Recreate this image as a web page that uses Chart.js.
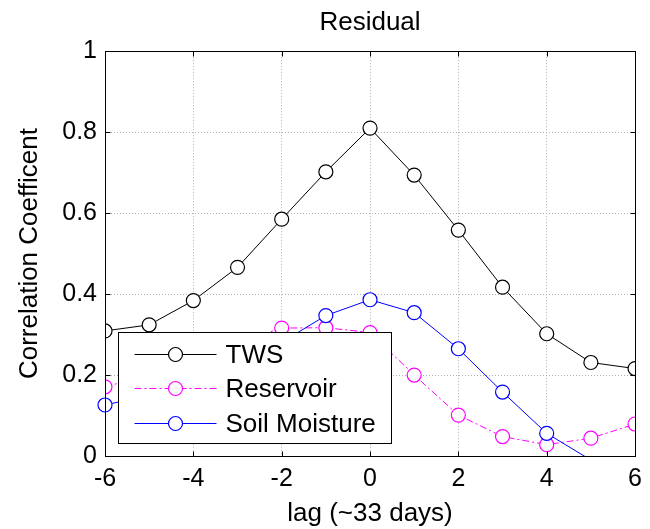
<!DOCTYPE html>
<html>
<head>
<meta charset="utf-8">
<script src="https://cdn.jsdelivr.net/npm/chart.js@4/dist/chart.umd.min.js"></script>
<style>
  html, body { margin: 0; padding: 0; background: #fff; }
</style>
</head>
<body>
<canvas id="myChart" width="650" height="529"></canvas>
<script>
// lag in units of ~33 days
const lags = [-6, -5, -4, -3, -2, -1, 0, 1, 2, 3, 4, 5, 6]
const tws = [0.309, 0.324, 0.384, 0.466, 0.585, 0.702, 0.810, 0.694, 0.558, 0.417, 0.302, 0.231, 0.216]
const reservoir = [0.171, 0.200, 0.240, 0.280, 0.316, 0.317, 0.305, 0.200, 0.101, 0.048, 0.028, 0.044, 0.079]
const soilMoisture = [0.126, 0.150, 0.190, 0.240, 0.281, 0.347, 0.386, 0.354, 0.265, 0.158, 0.056, -0.010, -0.050]
const xTicks = [-6, -4, -2, 0, 2, 4, 6]
const yTicks = [0, 0.2, 0.4, 0.6, 0.8, 1]

const fontFamily = '"Liberation Sans", Arial, Helvetica, sans-serif'

const toPoints = values => lags.map((lag, i) => ({ x: lag, y: values[i] }))

// box, inward ticks and legend drawn like a matlab axes
const matlabAxes = {
  id: 'matlabAxes',
  afterDatasetsDraw (chart) {
    const ctx = chart.ctx
    const area = chart.chartArea
    const xScale = chart.scales.x
    const yScale = chart.scales.y
    const L = Math.round(area.left) + 0.5
    const R = Math.round(area.right) + 0.5
    const T = Math.round(area.top) + 0.5
    const B = Math.round(area.bottom) + 0.5
    ctx.save()
    ctx.strokeStyle = '#000'
    ctx.lineWidth = 1
    ctx.setLineDash([])
    ctx.strokeRect(L, T, R - L, B - T)
    ctx.beginPath()
    xTicks.forEach(v => {
      const px = Math.round(xScale.getPixelForValue(v)) + 0.5
      ctx.moveTo(px, B); ctx.lineTo(px, B - 5)
      ctx.moveTo(px, T); ctx.lineTo(px, T + 5)
    })
    yTicks.forEach(v => {
      const py = Math.round(yScale.getPixelForValue(v)) + 0.5
      ctx.moveTo(L, py); ctx.lineTo(L + 5, py)
      ctx.moveTo(R, py); ctx.lineTo(R - 5, py)
    })
    ctx.stroke()

    // legend, south west corner
    const lw = 273
    const lh = 111
    const lx = Math.round(area.left) + 13 + 0.5
    const ly = Math.round(area.bottom) - 13 - lh + 0.5
    ctx.fillStyle = '#fff'
    ctx.fillRect(lx, ly, lw, lh)
    ctx.strokeRect(lx, ly, lw, lh)
    const rowY = [22, 56, 91]
    chart.data.datasets.forEach((ds, i) => {
      const y = ly + rowY[i]
      ctx.strokeStyle = ds.borderColor
      ctx.lineWidth = ds.borderWidth
      ctx.setLineDash(ds.borderDash || [])
      ctx.beginPath()
      ctx.moveTo(lx + 16, y)
      ctx.lineTo(lx + 98, y)
      ctx.stroke()
      ctx.setLineDash([])
      ctx.beginPath()
      ctx.arc(lx + 57, y, 7, 0, Math.PI * 2)
      ctx.fillStyle = '#fff'
      ctx.fill()
      ctx.lineWidth = ds.pointBorderWidth
      ctx.strokeStyle = ds.pointBorderColor
      ctx.stroke()
      ctx.fillStyle = '#000'
      ctx.font = '26px ' + fontFamily
      ctx.textBaseline = 'middle'
      ctx.textAlign = 'left'
      ctx.fillText(ds.label, lx + 107, y + 1)
    })
    ctx.restore()
  }
}

const lineStyle = (color) => ({
  borderColor: color,
  borderWidth: 1,
  pointRadius: 7,
  pointHoverRadius: 7,
  pointBackgroundColor: '#fff',
  pointBorderColor: color,
  pointBorderWidth: 1.2,
  tension: 0,
  fill: false
})

const configuration = {
  type: 'line',
  data: {
    datasets: [
      {
        label: 'TWS',
        data: toPoints(tws),
        order: 3,
        ...lineStyle('#000')
      },
      {
        label: 'Reservoir',
        data: toPoints(reservoir),
        order: 2,
        ...lineStyle('#ff00ff'),
        borderDash: [7, 3, 2, 3]
      },
      {
        label: 'Soil Moisture',
        data: toPoints(soilMoisture),
        order: 1,
        ...lineStyle('#0000ff'),
        pointRadius: c => (c.raw && c.raw.y < 0 ? 0 : 7),
        clip: { left: 12, top: 12, right: 12, bottom: 0 }
      }
    ]
  },
  options: {
    responsive: false,
    animation: false,
    devicePixelRatio: 1,
    layout: { padding: { left: 0, right: 14, top: 0, bottom: 0 } },
    scales: {
      x: {
        type: 'linear',
        min: -6,
        max: 6,
        afterBuildTicks: scale => { scale.ticks = xTicks.map(v => ({ value: v })) },
        afterFit: scale => { scale.height = 73 },
        grid: { color: '#b0b0b0', lineWidth: 1, drawTicks: false },
        border: { display: false, dash: [1, 2] },
        ticks: {
          color: '#000',
          font: { family: fontFamily, size: 25 },
          padding: 8,
          maxRotation: 0,
          autoSkip: false,
          callback: value => String(Number(value.toFixed(2)))
        },
        title: {
          display: true,
          text: 'lag (~33 days)',
          color: '#000',
          font: { family: fontFamily, size: 26 },
          padding: 0
        }
      },
      y: {
        type: 'linear',
        min: 0,
        max: 1,
        afterBuildTicks: scale => { scale.ticks = yTicks.map(v => ({ value: v })) },
        afterFit: scale => { scale.width = 105 },
        grid: { color: '#b0b0b0', lineWidth: 1, drawTicks: false },
        border: { display: false, dash: [1, 2] },
        ticks: {
          color: '#000',
          font: { family: fontFamily, size: 25 },
          padding: 8,
          callback: value => String(Number(value.toFixed(2)))
        },
        title: {
          display: true,
          text: 'Correlation Coefficent',
          color: '#000',
          font: { family: fontFamily, size: 26 },
          padding: { top: 14, bottom: 0 }
        }
      }
    },
    plugins: {
      legend: { display: false },
      tooltip: { enabled: false },
      title: {
        display: true,
        text: 'Residual',
        fullSize: false,
        color: '#000',
        font: { family: fontFamily, size: 26, weight: 'normal' },
        padding: { top: 7, bottom: 13 }
      }
    }
  },
  plugins: [matlabAxes]
}

const myChart = new Chart(document.getElementById('myChart').getContext('2d'), configuration)
</script>
</body>
</html>
